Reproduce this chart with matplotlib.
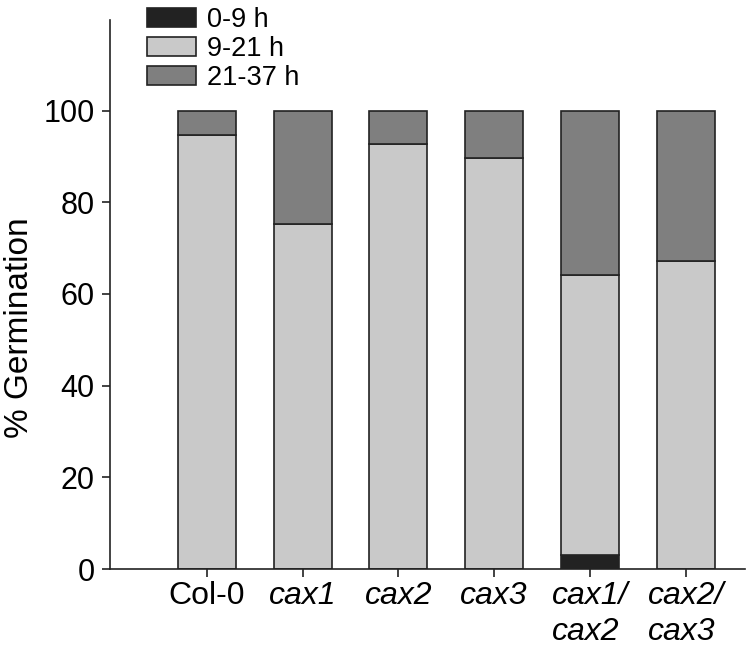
import matplotlib
matplotlib.use("Agg")
import matplotlib.pyplot as plt
import numpy as np

plt.rcParams['font.family'] = ['Liberation Sans', 'DejaVu Sans']

categories = ["Col-0", "cax1", "cax2", "cax3", "cax1/\ncax2", "cax2/\ncax3"]
italic = [False, True, True, True, True, True]
h0_9 = [0.0, 0.0, 0.0, 0.0, 3.1, 0.0]
h9_21 = [94.7, 75.3, 92.7, 89.7, 61.1, 67.2]
h21_37 = [5.3, 24.7, 7.3, 10.3, 35.8, 32.8]
series_labels = ["0-9 h", "9-21 h", "21-37 h"]
colors = ["#222222", "#c9c9c9", "#7f7f7f"]

fig = plt.figure(figsize=(7.55, 6.53), dpi=100)
ax = fig.add_axes([0.1457, 0.1286, 0.8413, 0.8404])

x = np.arange(len(categories))
w = 0.605
ec = "#222222"
lw = 1.2
bottom = np.zeros(len(categories))
for vals, lab, c in zip([h0_9, h9_21, h21_37], series_labels, colors):
    vals = np.array(vals)
    ax.bar(x, vals, w, bottom=bottom, color=c, edgecolor=ec, linewidth=lw, label=lab)
    bottom = bottom + vals

ax.set_xlim(-1.01, 5.62)
ax.set_ylim(0, 119.7)
ax.set_yticks([0, 20, 40, 60, 80, 100])
ax.set_xticks(x)
ax.set_xticklabels(categories)
ax.tick_params(axis='both', length=5.5, width=1.2, color='#222222', labelcolor='black')
ax.tick_params(axis='y', pad=5.5, labelsize=22)
ax.tick_params(axis='x', pad=3, labelsize=23)
for t, it in zip(ax.get_xticklabels(), italic):
    if it:
        t.set_fontstyle('italic')
    t.set_linespacing(1.25)
    t.set_multialignment('left')
for s in ['top', 'right']:
    ax.spines[s].set_visible(False)
for s in ['left', 'bottom']:
    ax.spines[s].set_linewidth(1.2)
    ax.spines[s].set_color('#222222')

ax.set_ylabel("% Germination", fontsize=24)
ax.yaxis.set_label_coords(-0.118, 0.44)

leg = ax.legend(loc='upper left', bbox_to_anchor=(0.188, 0.998), bbox_transform=fig.transFigure,
                frameon=False, fontsize=19.5, handlelength=1.8, handleheight=0.68,
                handletextpad=0.4, labelspacing=0.12, borderaxespad=0, borderpad=0.2)

fig.savefig("out.png", dpi=100)
